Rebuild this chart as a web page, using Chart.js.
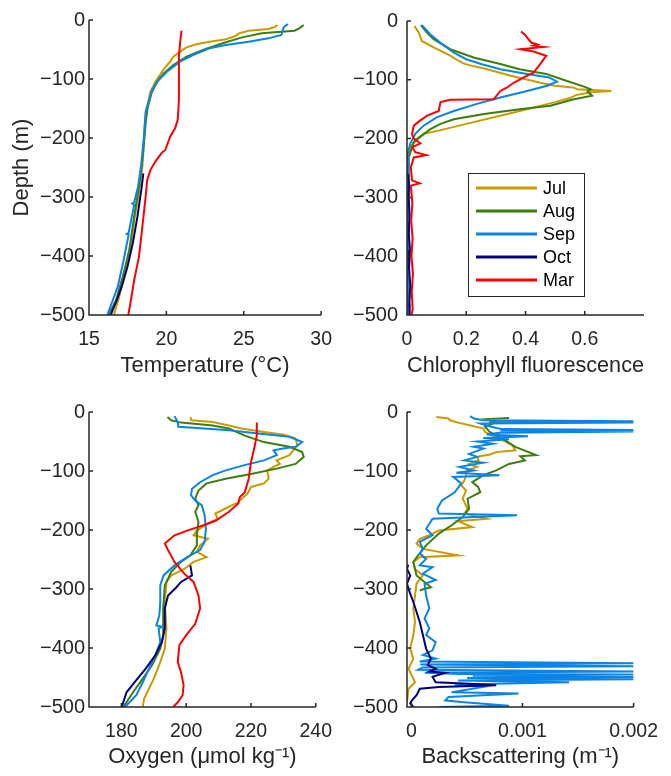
<!DOCTYPE html>
<html>
<head>
<meta charset="utf-8">
<script src="https://cdn.jsdelivr.net/npm/chart.js@4.4.0/dist/chart.umd.min.js"></script>
<style>
    body { margin: 0; background: #fff; }
    canvas { position: absolute; }
</style>
</head>
<body>
<canvas id="tempChart" width="345" height="390" style="left:0;top:0"></canvas>
<canvas id="chlChart" width="336" height="390" style="left:335px;top:0"></canvas>
<canvas id="oxyChart" width="345" height="386" style="left:0;top:390px"></canvas>
<canvas id="bbpChart" width="336" height="386" style="left:335px;top:390px"></canvas>

<script>
    var months = ['Jul', 'Aug', 'Sep', 'Oct', 'Mar'];
    var monthColors = ['#cc9a00', '#3b7f0d', '#0a84e6', '#000080', '#ff0000'];
    var depthTicks = [0, -100, -200, -300, -400, -500];

    // temperature (degC) against depth (m)
    var tempJulDepth = [-8.5, -12.4, -15.3, -18.1, -22.6, -27.1, -32.8, -36.7, -41.2, -46.3, -53.7, -62.1, -70.6, -83.6, -90.4, -104.5, -121.5, -146.9, -169.5, -209, -248.6, -288, -333, -390, -435, -474.6, -500];
    var tempJul = [27.18, 26.97, 26.59, 25.32, 24.68, 24.47, 23.84, 22.78, 21.93, 21.3, 20.88, 20.45, 20.24, 19.82, 19.65, 19.29, 18.97, 18.76, 18.62, 18.55, 18.45, 18.26, 17.96, 17.66, 17.28, 16.9, 16.6];
    var tempAugDepth = [-8.5, -14.1, -18.1, -19.8, -22.6, -29.4, -39.5, -50.8, -62.1, -76.3, -90.4, -104.5, -124, -147, -169.5, -209, -248.6, -288, -333, -390, -435, -474.6, -500];
    var tempAug = [28.87, 28.59, 28.28, 27.43, 26.16, 24.89, 23.63, 22.36, 21.3, 20.45, 19.82, 19.4, 19.04, 18.8, 18.68, 18.55, 18.4, 18.19, 17.92, 17.6, 17.18, 16.75, 16.27];
    var tempSepDepth = [-6.8, -12.4, -25.4, -31.1, -36.7, -42.4, -48, -59.3, -70.6, -87.6, -101.7, -118.6, -155.4, -197.7, -243, -282.5, -309, -311, -313, -361, -362.5, -364, -406.8, -452, -474.6, -500];
    var tempSep = [27.85, 27.58, 27.43, 26.59, 25.32, 23.84, 22.78, 21.72, 20.88, 20.03, 19.5, 19.08, 18.66, 18.55, 18.38, 18.17, 17.92, 17.8, 17.92, 17.56, 17.45, 17.56, 17.24, 16.86, 16.54, 16.18];
    var tempOctDepth = [-259.9, -288, -333, -378.5, -418, -452, -474.6, -500];
    var tempOct = [18.51, 18.38, 18.13, 17.83, 17.49, 17.11, 16.8, 16.4];
    var tempMarDepth = [-18.1, -39.5, -62.1, -135.6, -169.5, -183.6, -197.7, -220.3, -224.9, -240, -254, -271, -299.4, -350, -401, -440.7, -474.6, -500];
    var tempMar = [20.98, 20.88, 20.81, 20.81, 20.73, 20.56, 20.24, 19.93, 19.71, 19.29, 18.97, 18.76, 18.66, 18.45, 18.23, 17.92, 17.71, 17.54];

    // chlorophyll fluorescence
    var chlJulDepth = [-8.5, -20, -34, -45, -59, -68, -72, -75, -82, -93, -105, -110, -113, -116, -119, -121, -126, -131, -138, -150, -161, -175, -186, -192, -200, -215, -237, -260, -300, -340, -380, -420, -460, -500];
    var chlJul = [0.025, 0.04, 0.05, 0.09, 0.146, 0.175, 0.19, 0.21, 0.27, 0.35, 0.45, 0.5, 0.56, 0.575, 0.69, 0.62, 0.57, 0.55, 0.5, 0.405, 0.315, 0.2, 0.11, 0.056, 0.034, 0.011, 0.002, 0.004, 0.002, 0.003, 0.001, 0.003, 0.002, 0.002];
    var chlAugDepth = [-7, -20, -31, -48, -62, -73, -82, -90, -102, -112, -116, -120, -127, -133, -144, -150, -158, -167, -175, -184, -195, -206, -232, -250, -290, -330, -370, -410, -450, -500];
    var chlAug = [0.047, 0.068, 0.09, 0.146, 0.225, 0.315, 0.38, 0.47, 0.54, 0.6, 0.62, 0.61, 0.625, 0.563, 0.484, 0.38, 0.26, 0.158, 0.113, 0.079, 0.05, 0.023, 0.006, 0.006, 0.004, 0.006, 0.004, 0.005, 0.003, 0.004];
    var chlSepDepth = [-7, -23, -37, -54, -65, -73, -82, -90, -96, -103, -110, -119, -130, -141, -153, -164, -178, -192, -209, -226, -243, -270, -310, -350, -400, -450, -500];
    var chlSep = [0.05, 0.079, 0.113, 0.158, 0.2, 0.25, 0.315, 0.405, 0.48, 0.506, 0.473, 0.405, 0.315, 0.236, 0.158, 0.1, 0.056, 0.028, 0.011, 0.002, 0.006, 0.003, 0.005, 0.004, 0.006, 0.004, 0.005];
    var chlOctDepth = [-260, -280, -300, -330, -360, -390, -420, -450, -480, -500];
    var chlOct = [0.004, 0.007, 0.005, 0.009, 0.006, 0.01, 0.007, 0.011, 0.008, 0.009];
    var chlMarDepth = [-18, -24, -28, -37, -40, -42, -44, -48, -52, -59, -73, -88, -96, -105, -113, -119, -133, -134, -138, -153, -161, -169, -178, -192, -200, -208, -215, -223, -228, -232, -249, -271, -276, -280, -310, -340, -370, -400, -430, -460, -490, -500];
    var chlMar = [0.385, 0.4, 0.405, 0.42, 0.44, 0.427, 0.46, 0.383, 0.427, 0.47, 0.45, 0.427, 0.394, 0.36, 0.338, 0.315, 0.293, 0.146, 0.113, 0.107, 0.068, 0.045, 0.023, 0.017, 0.023, 0.045, 0.017, 0.028, 0.065, 0.023, 0.013, 0.017, 0.043, 0.013, 0.018, 0.014, 0.019, 0.015, 0.02, 0.016, 0.019, 0.015];

    // oxygen (umol/kg)
    var oxyJulDepth = [-8.5, -14, -17, -23, -28, -34, -38, -45, -56, -73, -82, -88, -93, -99, -113, -121, -127, -138, -153, -164, -172, -181, -189, -201, -209, -215, -226, -237, -246, -254, -266, -277, -288, -322, -367, -401, -424, -452, -469, -486, -500];
    var oxyJul = [201.3, 201.6, 208.2, 213.2, 217.1, 224, 229.9, 233.8, 234.3, 231.9, 227.9, 228.9, 227, 225, 225.5, 224, 220, 219, 216, 212, 209, 209.7, 206.7, 203.3, 202.3, 206.7, 204.3, 203.3, 206.3, 202.3, 199.4, 195.4, 193.9, 193.4, 193.9, 193.4, 192, 190, 188.5, 187, 186.6];
    var oxyAugDepth = [-8.5, -14, -18, -23, -28, -40, -51, -59, -68, -76, -88, -96, -105, -113, -121, -133, -147, -158, -169, -186, -209, -226, -243, -254, -271, -294, -333, -378, -401, -429, -452, -475, -500];
    var oxyAug = [194.2, 195.4, 198.4, 208.2, 213.2, 218.1, 224, 231.9, 235.8, 236.3, 233.8, 227.9, 220, 212.2, 206.3, 203.8, 202.8, 203.8, 202.8, 203.8, 203.3, 203.3, 201.3, 198.4, 195.4, 193.4, 192.9, 192.9, 192, 189.5, 186.6, 183.6, 180.6];
    var oxySepDepth = [-7, -17, -25, -27, -31, -37, -42, -51, -59, -62, -65, -73, -82, -90, -99, -107, -119, -130, -141, -150, -158, -175, -198, -220, -234, -246, -260, -277, -294, -322, -345, -362, -364, -367, -390, -412, -435, -458, -480, -500];
    var oxySep = [196.4, 197.4, 197.6, 203.3, 213.2, 223, 231.9, 235.8, 233.8, 229.9, 227, 228, 224, 218, 212.2, 208.2, 204.3, 201.8, 201.5, 202.8, 204.8, 205.7, 206.1, 205.7, 204.3, 200.3, 196.4, 193, 192, 192, 191.7, 190.8, 192.5, 191.5, 192, 190.5, 188.5, 186.6, 184.6, 181.1];
    var oxyOctDepth = [-260, -277, -288, -297, -311, -333, -367, -390, -412, -435, -458, -475, -500];
    var oxyOct = [201.3, 201.8, 198.4, 197, 194.4, 193.4, 193.4, 192.5, 190.5, 187.5, 184.1, 181.6, 180.1];
    var oxyMarDepth = [-18, -40, -62, -85, -113, -136, -144, -155, -169, -184, -192, -201, -209, -223, -234, -254, -274, -288, -311, -333, -359, -379, -395, -424, -441, -463, -480, -492, -500];
    var oxyMar = [221.8, 221.8, 221, 220, 219.3, 218.1, 216.6, 216.1, 213.2, 209.2, 205.3, 200.3, 196.4, 193.4, 194.4, 196.4, 199.4, 202.3, 203.8, 204.3, 202.8, 199.9, 197.9, 197.4, 198.4, 199.2, 198.9, 197.4, 196];

    // backscattering (1/m), no March profile
    var bbpJulDepth = [-8.5, -11, -14, -18, -23, -28, -34, -45, -56, -65, -68, -72, -76, -82, -88, -93, -99, -116, -124, -133, -147, -164, -172, -181, -185, -195, -201, -209, -215, -223, -232, -243, -246, -254, -266, -277, -291, -311, -333, -356, -378, -401, -418, -435, -458, -469, -492];
    var bbpJul = [2.24e-4, 3.33e-4, 3.47e-4, 4.19e-4, 5.34e-4, 6.48e-4, 6.63e-4, 7.92e-4, 9.07e-4, 9.35e-4, 7.63e-4, 7.06e-4, 5.91e-4, 6.05e-4, 5.19e-4, 5.91e-4, 5.05e-4, 4.76e-4, 4.48e-4, 4.91e-4, 4.62e-4, 5.05e-4, 4.76e-4, 6.77e-4, 4.19e-4, 5.48e-4, 2.47e-4, 1.61e-4, 7.5e-5, 4.6e-5, 1.03e-4, 4.19e-4, 7.5e-5, 1.7e-5, 3.2e-5, 1.03e-4, 4.6e-5, 3.2e-5, 1.7e-5, 3.2e-5, 1.7e-5, -1.1e-5, 1.7e-5, -2.6e-5, 3.2e-5, -2.6e-5, -4e-5];
    var bbpAugDepth = [-10, -12, -17, -25, -34, -45, -59, -73, -75, -82, -88, -99, -107, -119, -127, -136, -147, -164, -178, -192, -206, -226, -243, -254, -277, -297, -302];
    var bbpAug = [8.78e-4, 6.77e-4, 7.63e-4, 6.63e-4, 7.06e-4, 8.2e-4, 9.35e-4, 1.122e-3, 9.8e-4, 1.021e-3, 8.78e-4, 7.63e-4, 6.48e-4, 5.48e-4, 6.0e-4, 6.2e-4, 5.05e-4, 5.19e-4, 4.62e-4, 3.62e-4, 2.47e-4, 1.32e-4, 6e-5, 1.7e-5, 4.6e-5, 1.75e-4, 7.5e-5];
    var bbpSepDepth = [-7, -11, -14, -15.5, -16.5, -18, -19.5, -23, -27, -29, -30.5, -31.5, -33, -35, -38, -41, -44, -46, -50, -54, -59, -62, -71, -76, -82, -86, -93, -99, -103, -107, -110, -121, -136, -150, -164, -172, -175, -181, -198, -209, -220, -232, -240, -249, -260, -263, -274, -285, -291, -311, -333, -350, -367, -378, -390, -404, -412, -418, -423, -426, -428, -431, -433, -437, -440, -442, -444, -445, -447, -449, -451, -453, -455, -458, -462, -466, -475, -477, -483, -489, -492, -498, -500];
    var bbpSep = [5.28e-4, 5.62e-4, 6.48e-4, 2e-3, 7e-4, 2e-3, 6.2e-4, 6.77e-4, 7.63e-4, 8.2e-4, 2e-3, 8e-4, 2e-3, 7.92e-4, 6.77e-4, 1.05e-3, 6.48e-4, 8.78e-4, 5.91e-4, 7.34e-4, 5.62e-4, 6.48e-4, 5.19e-4, 5.91e-4, 4.76e-4, 6.48e-4, 4.33e-4, 5.62e-4, 4.05e-4, 7.92e-4, 3.76e-4, 4.48e-4, 3.9e-4, 2.75e-4, 2.32e-4, 2.47e-4, 9.5e-4, 1.9e-4, 1.32e-4, 1.9e-4, 7.5e-5, 1.03e-4, 7.5e-5, 1.32e-4, 7.5e-5, 1.9e-4, 1.03e-4, 2.18e-4, 1.18e-4, 1.32e-4, 1.61e-4, 1.18e-4, 1.61e-4, 1.32e-4, 2.18e-4, 1.9e-4, 1.03e-4, 2.18e-4, 7.5e-5, 2e-3, 8e-5, 2e-3, 1e-4, 6e-5, 2e-3, 1.2e-4, 4.4e-4, 2e-3, 5.5e-4, 2e-3, 5e-4, 2e-3, 4.2e-4, 1.42e-3, 3.9e-4, 6.48e-4, 3.62e-4, 9.64e-4, 3.33e-4, 3.04e-4, 4.76e-4, 8.78e-4, 2.47e-4];
    var bbpOctDepth = [-259, -266, -277, -291, -305, -322, -339, -356, -378, -401, -418, -429, -435, -440, -442, -449, -458, -460, -463, -466, -469, -480, -489, -494, -500];
    var bbpOct = [-2.9e-5, -4e-5, -1.1e-5, -4e-5, -1.7e-5, 1.7e-5, 4.6e-5, 7.5e-5, 1.03e-4, 1.32e-4, 1.75e-4, 1.46e-4, 2.18e-4, 1.61e-4, 3.04e-4, 1.9e-4, 2.18e-4, 4.76e-4, 7.63e-4, 2.47e-4, 7.5e-5, 4.6e-5, 3e-6, -1.1e-5, 1.7e-5];

    var ink = '#262626';
    var fam = "'Liberation Sans', Arial, sans-serif";

    function series(values, depths) {
        return values.map(function (v, i) { return { x: v, y: depths[i] }; });
    }

    function profileSets(valueLists, depthLists) {
        var sets = [];
        for (var i = 0; i < months.length; i++) {
            if (!valueLists[i]) continue;
            sets.push({
                label: months[i],
                data: series(valueLists[i], depthLists[i]),
                borderColor: monthColors[i],
                backgroundColor: monthColors[i],
                borderWidth: 2,
                pointRadius: 0,
                showLine: true,
                order: months.length - i
            });
        }
        return sets;
    }

    // matlab-ish box: left and bottom axis lines with inward ticks, optional legend
    var matlabAxes = {
        id: 'matlabAxes',
        afterDraw: function (chart, args, opts) {
            var ctx = chart.ctx, a = chart.chartArea;
            var xs = chart.scales.x, ys = chart.scales.y;
            ctx.save();
            ctx.strokeStyle = ink;
            ctx.lineWidth = 1.5;
            ctx.beginPath();
            ctx.moveTo(a.left, a.top);
            ctx.lineTo(a.left, a.bottom);
            ctx.lineTo(a.right, a.bottom);
            xs.ticks.forEach(function (t) {
                var p = xs.getPixelForValue(t.value);
                ctx.moveTo(p, a.bottom);
                ctx.lineTo(p, a.bottom - 4);
            });
            ys.ticks.forEach(function (t) {
                var p = ys.getPixelForValue(t.value);
                ctx.moveTo(a.left, p);
                ctx.lineTo(a.left + 4, p);
            });
            ctx.stroke();

            if (opts.legendAt) {
                var lx = opts.legendAt[0], ly = opts.legendAt[1];
                ctx.fillStyle = '#fff';
                ctx.fillRect(lx, ly, 116, 123);
                ctx.lineWidth = 1;
                ctx.strokeStyle = ink;
                ctx.strokeRect(lx + 0.5, ly + 0.5, 116, 123);
                ctx.font = '18px ' + fam;
                ctx.textBaseline = 'middle';
                chart.data.datasets.forEach(function (ds, i) {
                    var y = ly + 15 + i * 23;
                    ctx.strokeStyle = ds.borderColor;
                    ctx.lineWidth = 3;
                    ctx.beginPath();
                    ctx.moveTo(lx + 8, y);
                    ctx.lineTo(lx + 69, y);
                    ctx.stroke();
                    ctx.fillStyle = '#000';
                    ctx.fillText(ds.label, lx + 75, y + 1);
                });
            }
            ctx.restore();
        }
    };

    function makeChart(id, cfg) {
        return new Chart(document.getElementById(id), {
            type: 'scatter',
            data: { datasets: cfg.sets },
            options: {
                responsive: false,
                animation: false,
                devicePixelRatio: 1,
                layout: { padding: cfg.padding },
                plugins: {
                    legend: { display: false },
                    tooltip: { enabled: false },
                    matlabAxes: { legendAt: cfg.legendAt || null }
                },
                scales: {
                    x: {
                        type: 'linear',
                        min: cfg.xMin,
                        max: cfg.xMax,
                        grid: { display: false, drawTicks: false },
                        border: { display: false },
                        afterBuildTicks: function (s) {
                            s.ticks = cfg.xTicks.map(function (v) { return { value: v }; });
                        },
                        afterFit: function (s) { s.height = cfg.xHeight; },
                        ticks: {
                            color: ink,
                            font: { family: fam, size: 19.5 },
                            padding: 13,
                            maxRotation: 0,
                            autoSkip: false,
                            callback: function (v) { return String(v); }
                        },
                        title: {
                            display: true,
                            text: cfg.xTitle,
                            color: ink,
                            font: { family: fam, size: 22 },
                            padding: { top: 0, bottom: cfg.titlePad }
                        }
                    },
                    y: {
                        type: 'linear',
                        min: -500,
                        max: 0,
                        grid: { display: false, drawTicks: false },
                        border: { display: false },
                        afterBuildTicks: function (s) {
                            s.ticks = depthTicks.map(function (v) { return { value: v }; });
                        },
                        afterFit: function (s) { s.width = cfg.yWidth; },
                        ticks: {
                            color: ink,
                            font: { family: fam, size: 20 },
                            padding: cfg.yPad,
                            callback: function (v) { return String(v).replace('-', '\u2212'); }
                        },
                        title: cfg.yTitle ? {
                            display: true,
                            text: cfg.yTitle,
                            color: ink,
                            font: { family: fam, size: 22 },
                            padding: { top: 9, bottom: 0 }
                        } : { display: false }
                    }
                }
            },
            plugins: [matlabAxes]
        });
    }

    makeChart('tempChart', {
        sets: profileSets([tempJul, tempAug, tempSep, tempOct, tempMar],
            [tempJulDepth, tempAugDepth, tempSepDepth, tempOctDepth, tempMarDepth]),
        xMin: 15, xMax: 30, xTicks: [15, 20, 25, 30],
        xTitle: 'Temperature (\u00B0C)', yTitle: 'Depth (m)',
        yWidth: 89, yPad: 4, xHeight: 75, titlePad: 11,
        padding: { top: 20, right: 20, left: 0, bottom: 0 }
    });

    makeChart('chlChart', {
        sets: profileSets([chlJul, chlAug, chlSep, chlOct, chlMar],
            [chlJulDepth, chlAugDepth, chlSepDepth, chlOctDepth, chlMarDepth]),
        xMin: 0, xMax: 0.8, xTicks: [0, 0.2, 0.4, 0.6],
        xTitle: 'Chlorophyll fluorescence',
        yWidth: 72, yPad: 9, xHeight: 75, titlePad: 11,
        padding: { top: 20, right: 27, left: 0, bottom: 0 },
        legendAt: [133, 173]
    });

    makeChart('oxyChart', {
        sets: profileSets([oxyJul, oxyAug, oxySep, oxyOct, oxyMar],
            [oxyJulDepth, oxyAugDepth, oxySepDepth, oxyOctDepth, oxyMarDepth]),
        xMin: 170, xMax: 240, xTicks: [180, 200, 220, 240],
        xTitle: 'Oxygen (\u03BCmol kg\u207B\u00B9)',
        yWidth: 89, yPad: 4, xHeight: 69, titlePad: 6,
        padding: { top: 22, right: 20, left: 0, bottom: 0 }
    });

    makeChart('bbpChart', {
        sets: profileSets([bbpJul, bbpAug, bbpSep, bbpOct, null],
            [bbpJulDepth, bbpAugDepth, bbpSepDepth, bbpOctDepth, null]),
        xMin: -0.00004, xMax: 0.002, xTicks: [0, 0.001, 0.002],
        xTitle: 'Backscattering (m\u207B\u00B9)',
        yWidth: 72, yPad: 9, xHeight: 69, titlePad: 6,
        padding: { top: 22, right: 27, left: 0, bottom: 0 }
    });
</script>
</body>
</html>
